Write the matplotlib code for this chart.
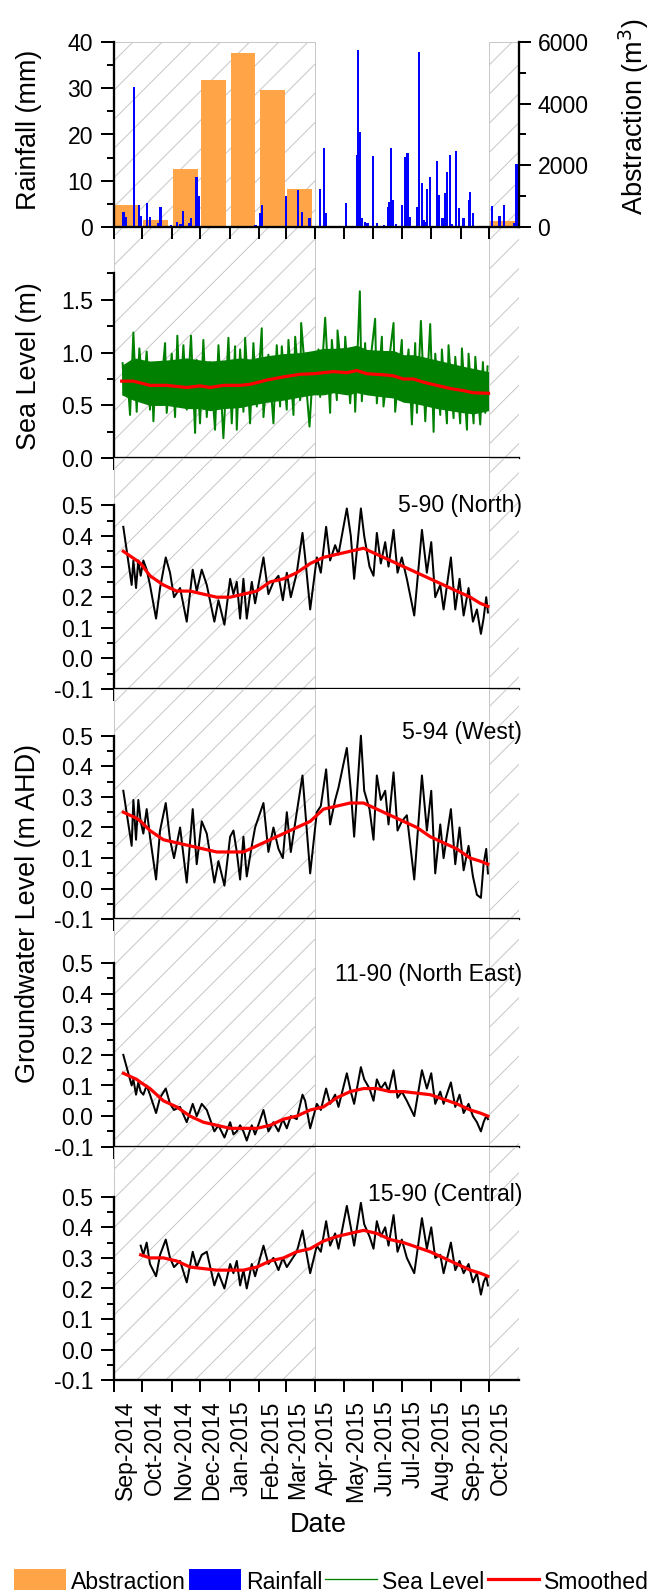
import numpy as np
import pandas as pd
import matplotlib
matplotlib.use('Agg')
import matplotlib.pyplot as plt
import matplotlib.dates as mdates
import matplotlib.transforms as mtrans
from matplotlib.patches import Patch
from matplotlib.lines import Line2D
from matplotlib.ticker import FixedLocator, FormatStrFormatter

DPI = 175
W, H = 649, 1590


def pt(px):
    # pixel size -> points at this dpi
    return px * 72.0 / DPI


plt.rcParams['font.family'] = ['Liberation Sans', 'DejaVu Sans']
plt.rcParams['axes.unicode_minus'] = False
plt.rcParams['hatch.linewidth'] = pt(1.0)

# ---------------- data ----------------
START = '2014-09-01'   # day 0 of all day offsets below

# monthly abstraction (m3), bars at mid month
abs_dates = ['2014-09-15', '2014-10-15', '2014-11-15', '2014-12-15',
             '2015-01-15', '2015-02-15', '2015-03-15', '2015-10-15']
abstraction = [700, 220, 1880, 4770, 5640, 4450, 1220, 200]

# daily rainfall (mm)
rain_days = [10, 12, 21, 26, 28, 35, 38, 47, 49, 60, 66, 70, 73, 79, 81, 87, 89,
             149, 154, 156, 181, 194, 198, 206, 217, 221, 223, 244, 256, 257, 259,
             261, 264, 267, 273, 277, 284, 289, 290, 292, 294, 297, 303, 307, 309,
             312, 319, 321, 324, 326, 328, 330, 333, 340, 342, 346, 349, 351, 354,
             356, 360, 363, 368, 374, 375, 378, 398, 406, 411, 421, 424]
rainfall = [3.1, 2.0, 30.2, 4.8, 2.3, 5.1, 2.0, 0.7, 4.2, 0.4, 1.1, 0.6, 3.5, 0.7, 1.8,
            10.7, 6.7, 0.4, 2.9, 4.7, 6.7, 8.0, 3.1, 1.9, 8.2, 17.0, 2.9, 5.1, 15.5,
            38.3, 20.6, 1.8, 1.0, 0.8, 15.3, 0.7, 0.4, 4.2, 5.4, 17.0, 5.8, 0.6, 4.7,
            15.2, 15.9, 2.0, 4.2, 37.8, 9.4, 1.4, 1.1, 8.2, 10.7, 14.3, 6.9, 1.8, 7.4,
            11.9, 15.5, 0.6, 16.5, 4.1, 1.8, 5.8, 7.6, 2.9, 4.5, 2.3, 4.7, 0.7, 13.5]

# sea level (m), peaks and troughs
sea_days = [9.1, 10.5, 13.3, 16.9, 20.4, 23.9, 26.7, 30.9, 34.4, 37.9,
            39.7, 41.5, 44.3, 48.5, 53.8, 55.5, 60.8, 64.3, 66.7, 69.6,
            73.1, 76.6, 81.1, 85.4, 87.1, 90.6, 94.1, 97.7, 101.2, 106.4,
            110.0, 115.2, 120.5, 124.0, 127.5, 129.3, 132.8, 136.3, 138.1, 143.3,
            146.8, 150.4, 155.6, 157.4, 162.6, 167.9, 171.4, 174.9, 176.7, 181.9,
            183.7, 189.0, 190.8, 196.0, 197.1, 205.9, 210.1, 211.8, 215.3, 217.1,
            222.4, 227.6, 229.4, 234.7, 235.4, 241.7, 243.5, 248.7, 252.2, 254.0,
            258.9, 261.0, 264.5, 266.3, 275.0, 276.8, 282.1, 283.8, 294.4, 296.1,
            303.1, 304.9, 310.2, 313.7, 317.2, 319.0, 323.2, 327.8, 333.0, 336.6,
            338.3, 343.6, 345.3, 350.6, 352.3, 357.6, 359.4, 364.6, 366.4, 371.7,
            373.4, 378.7, 380.5, 385.7, 388.5, 391.0, 393.4]
sea_level = [0.90, 0.65, 0.88, 0.41, 1.19, 0.44, 1.04, 0.58, 1.01, 0.46,
             0.84, 0.35, 0.90, 0.55, 1.09, 0.43, 0.99, 0.39, 1.16, 0.52,
             1.07, 0.46, 1.16, 0.24, 0.93, 0.33, 1.12, 0.39, 0.91, 0.27,
             1.07, 0.19, 1.14, 0.33, 1.06, 0.27, 1.03, 0.44, 1.14, 0.33,
             1.09, 0.49, 1.23, 0.39, 0.98, 0.33, 1.07, 0.49, 1.06, 0.46,
             1.12, 0.41, 1.15, 0.55, 1.28, 0.30, 0.93, 0.65, 1.03, 0.58,
             1.33, 0.43, 1.12, 0.55, 1.21, 0.62, 1.15, 0.52, 1.01, 0.44,
             1.58, 0.54, 1.09, 0.62, 1.32, 0.52, 1.15, 0.49, 1.28, 0.44,
             1.12, 0.55, 1.03, 0.32, 1.09, 0.43, 1.30, 0.35, 1.27, 0.25,
             0.99, 0.41, 1.03, 0.33, 1.07, 0.38, 0.96, 0.33, 1.04, 0.27,
             0.99, 0.33, 0.96, 0.32, 0.91, 0.43, 0.87]
sea_smooth_days = [8.1, 20.4, 37.9, 55.5, 76.6, 90.6, 101.2, 115.2, 132.8, 143.3,
                   160.9, 178.4, 196.0, 210.0, 220.6, 231.1, 245.2, 255.7, 266.3, 283.8,
                   294.3, 304.9, 315.4, 325.9, 340.0, 354.1, 368.1, 378.6, 394.4]
sea_smooth = [0.73, 0.73, 0.69, 0.69, 0.67, 0.685, 0.67, 0.69, 0.69, 0.70,
              0.74, 0.77, 0.795, 0.80, 0.81, 0.82, 0.81, 0.83, 0.80, 0.79,
              0.78, 0.75, 0.75, 0.72, 0.69, 0.66, 0.64, 0.62, 0.615]
# densely filled core of the hourly record (same days as the smoothed curve)
sea_core_hi = [0.88, 0.95, 0.92, 0.93, 0.95, 0.93, 0.92, 0.93, 0.95, 0.94,
               0.97, 0.99, 1.00, 1.02, 1.04, 1.04, 1.05, 1.07, 1.03, 1.02,
               1.02, 0.98, 0.98, 0.96, 0.93, 0.90, 0.87, 0.85, 0.82]
sea_core_lo = [0.60, 0.55, 0.50, 0.50, 0.47, 0.47, 0.45, 0.47, 0.48, 0.50,
               0.53, 0.55, 0.58, 0.60, 0.60, 0.62, 0.60, 0.62, 0.60, 0.58,
               0.57, 0.53, 0.52, 0.50, 0.47, 0.45, 0.43, 0.42, 0.45]

# groundwater levels (m AHD)
gw_days = [9.8, 18.6, 20.4, 23.2, 25.6, 28.1, 30.9, 34.4, 37.9, 44.3,
           48.5, 54.5, 59.0, 63.2, 69.6, 76.6, 82.9, 87.1, 92.4, 97.7,
           105.7, 110.0, 116.3, 122.3, 125.8, 129.3, 132.8, 136.3, 139.8, 145.1,
           148.6, 157.4, 162.6, 167.9, 173.2, 177.8, 182.0, 186.2, 192.5, 198.5,
           201.3, 206.6, 213.6, 217.8, 223.4, 227.6, 232.9, 236.4, 245.2, 249.4,
           252.9, 260.0, 263.5, 269.1, 273.3, 276.8, 281.0, 285.6, 289.1, 294.4,
           298.6, 303.1, 308.4, 316.2, 324.3, 329.5, 334.1, 338.3, 343.6, 347.1,
           354.8, 359.4, 363.9, 368.2, 373.4, 378.0, 382.2, 386.4, 389.2, 392.0,
           393.8]
gw_north = [0.43, 0.24, 0.32, 0.23, 0.32, 0.27, 0.32, 0.29, 0.24, 0.13,
            0.23, 0.33, 0.28, 0.20, 0.23, 0.12, 0.29, 0.22, 0.29, 0.24,
            0.12, 0.19, 0.11, 0.26, 0.21, 0.25, 0.13, 0.26, 0.13, 0.25,
            0.18, 0.33, 0.21, 0.25, 0.27, 0.19, 0.28, 0.20, 0.28, 0.41,
            0.33, 0.16, 0.33, 0.28, 0.43, 0.32, 0.37, 0.34, 0.49, 0.40,
            0.26, 0.49, 0.40, 0.30, 0.27, 0.41, 0.31, 0.38, 0.30, 0.42,
            0.28, 0.33, 0.26, 0.14, 0.42, 0.28, 0.38, 0.20, 0.24, 0.16,
            0.33, 0.16, 0.26, 0.14, 0.23, 0.12, 0.16, 0.08, 0.13, 0.20,
            0.15]
gw_west = [0.32, 0.14, 0.29, 0.16, 0.29, 0.22, 0.18, 0.26, 0.17, 0.03,
           0.19, 0.28, 0.16, 0.10, 0.20, 0.02, 0.26, 0.08, 0.22, 0.18,
           0.02, 0.09, 0.01, 0.17, 0.19, 0.12, 0.03, 0.17, 0.04, 0.14,
           0.20, 0.28, 0.12, 0.20, 0.13, 0.10, 0.25, 0.12, 0.25, 0.37,
           0.26, 0.05, 0.25, 0.27, 0.39, 0.21, 0.29, 0.33, 0.46, 0.32,
           0.17, 0.50, 0.32, 0.26, 0.16, 0.37, 0.29, 0.32, 0.21, 0.38,
           0.19, 0.22, 0.24, 0.03, 0.37, 0.19, 0.32, 0.05, 0.21, 0.10,
           0.26, 0.08, 0.20, 0.06, 0.14, 0.04, -0.02, -0.03, 0.08, 0.13,
           0.05]
gw_northeast = [0.20, 0.10, 0.12, 0.07, 0.11, 0.08, 0.07, 0.10, 0.07, 0.01,
                0.06, 0.09, 0.04, 0.02, 0.03, -0.02, 0.04, 0.00, 0.04, 0.02,
                -0.05, -0.03, -0.07, -0.02, -0.06, -0.05, -0.03, -0.05, -0.08, -0.03,
                -0.06, 0.02, -0.05, -0.02, -0.05, -0.01, -0.04, 0.00, -0.01, 0.07,
                0.05, -0.04, 0.04, 0.02, 0.09, 0.04, 0.07, 0.03, 0.14, 0.08,
                0.04, 0.16, 0.12, 0.09, 0.05, 0.12, 0.09, 0.11, 0.08, 0.15,
                0.06, 0.08, 0.05, 0.00, 0.15, 0.09, 0.14, 0.04, 0.08, 0.04,
                0.11, 0.03, 0.07, 0.01, 0.04, 0.00, -0.02, -0.05, -0.02, 0.00,
                -0.01]
gw_central = [np.nan, np.nan, np.nan, np.nan, np.nan, 0.34, 0.31, 0.35, 0.28, 0.24,
              0.31, 0.36, 0.30, 0.27, 0.29, 0.22, 0.32, 0.27, 0.31, 0.32,
              0.21, 0.25, 0.20, 0.28, 0.25, 0.29, 0.21, 0.26, 0.20, 0.28,
              0.24, 0.34, 0.28, 0.30, 0.26, 0.30, 0.27, 0.29, 0.32, 0.39,
              0.34, 0.25, 0.34, 0.32, 0.42, 0.34, 0.38, 0.33, 0.47, 0.40,
              0.34, 0.48, 0.41, 0.37, 0.33, 0.42, 0.37, 0.40, 0.34, 0.44,
              0.32, 0.36, 0.30, 0.25, 0.43, 0.33, 0.40, 0.30, 0.31, 0.25,
              0.35, 0.26, 0.29, 0.25, 0.28, 0.22, 0.25, 0.18, 0.22, 0.24,
              0.21]

smooth_days = [9.8, 23.9, 28.1, 37.9, 52.0, 66.0, 80.1, 94.1, 108.2, 122.3,
               136.3, 150.4, 164.4, 178.5, 192.5, 206.6, 220.6, 234.7, 248.7, 262.8,
               276.8, 290.9, 304.9, 319.0, 333.0, 347.1, 361.1, 375.2, 385.7, 393.8]
smooth_north = [0.35, 0.32, 0.31, 0.27, 0.24, 0.22, 0.22, 0.21, 0.20, 0.20,
                0.21, 0.22, 0.25, 0.26, 0.28, 0.31, 0.33, 0.34, 0.35, 0.36,
                0.34, 0.32, 0.30, 0.28, 0.26, 0.24, 0.22, 0.20, 0.18, 0.17]
smooth_west = [0.25, 0.23, 0.22, 0.19, 0.16, 0.15, 0.14, 0.13, 0.12, 0.12,
               0.12, 0.14, 0.16, 0.18, 0.20, 0.22, 0.26, 0.27, 0.28, 0.28,
               0.26, 0.24, 0.22, 0.20, 0.17, 0.15, 0.13, 0.10, 0.09, 0.08]
smooth_northeast = [0.14, 0.12, 0.11, 0.09, 0.05, 0.03, 0.00, -0.02, -0.03, -0.04,
                    -0.04, -0.04, -0.03, -0.01, 0.00, 0.02, 0.03, 0.06, 0.08, 0.09,
                    0.09, 0.08, 0.08, 0.075, 0.07, 0.055, 0.04, 0.02, 0.01, 0.00]
smooth_central = [np.nan, np.nan, 0.31, 0.30, 0.30, 0.29, 0.27, 0.265, 0.26, 0.26,
                  0.26, 0.27, 0.29, 0.30, 0.32, 0.33, 0.355, 0.37, 0.38, 0.39,
                  0.38, 0.36, 0.35, 0.335, 0.32, 0.30, 0.28, 0.26, 0.25, 0.24]

wells = ['5-90 (North)', '5-94 (West)', '11-90 (North East)', '15-90 (Central)']
well_label_y = [0.48, 0.49, 0.44, 0.485]

# ---------------- styling ----------------
ORANGE = '#FFA548'
BLUE = '#0000FF'
GREEN = '#008000'
RED = '#FF0000'
HATCH_GREY = '#c8c8c8'

x0 = mdates.datestr2num(START)
XMIN = x0
XMAX = mdates.datestr2num('2015-11-01')
WET_END = mdates.datestr2num('2015-04-01')
WET2_START = mdates.datestr2num('2015-10-01')
month_ticks = mdates.date2num(pd.date_range('2014-09-01', '2015-10-01', freq='MS'))


def dn(days):
    return x0 + np.asarray(days, dtype=float)


fig = plt.figure(figsize=((W + 0.01) / DPI, (H + 0.01) / DPI), dpi=DPI)
LEFT, RIGHT = 114, 518.5
panels = [(42.3, 226.7), (226.7, 458.3), (458.3, 689.0),
          (689.0, 919.3), (919.3, 1146.7), (1146.7, 1380.3)]


def add_ax(top, bot):
    return fig.add_axes([LEFT / W, 1 - bot / H, (RIGHT - LEFT) / W, (bot - top) / H])


def shade(ax):
    for a, b in [(XMIN, WET_END), (WET2_START, XMAX)]:
        ax.axvspan(a, b, facecolor='none', edgecolor=HATCH_GREY, hatch='//',
                   lw=pt(1), zorder=0)


def style(ax):
    ax.spines['top'].set_visible(False)
    ax.spines['right'].set_visible(False)
    ax.spines['left'].set_linewidth(pt(2.3))
    ax.spines['bottom'].set_linewidth(pt(2.3))
    ax.set_xlim(XMIN, XMAX)
    ax.xaxis.set_major_locator(FixedLocator(month_ticks))
    ax.tick_params(axis='x', which='major', direction='out', length=pt(12),
                   width=pt(2), labelbottom=False)
    ax.tick_params(axis='y', which='major', direction='out', length=pt(13),
                   width=pt(2), labelsize=pt(23), pad=pt(8))
    ax.tick_params(axis='y', which='minor', direction='out', length=pt(7), width=pt(2))


# panel 1: abstraction + rainfall
ax1 = add_ax(*panels[0])
ax1r = ax1.twinx()
ax1.set_zorder(3)
ax1r.set_zorder(2)
ax1.patch.set_visible(False)
style(ax1)
shade(ax1r)
ax1r.bar(mdates.datestr2num(abs_dates), abstraction, width=26, color=ORANGE, zorder=2)
ax1.bar(dn(rain_days), rainfall, width=2.4, color=BLUE, zorder=2)
ax1.set_ylim(0, 40)
ax1.yaxis.set_major_locator(FixedLocator([0, 10, 20, 30, 40]))
ax1.yaxis.set_minor_locator(FixedLocator([5, 15, 25, 35]))
ax1r.set_ylim(0, 6000)
ax1r.set_xlim(XMIN, XMAX)
for s in ['top', 'left', 'bottom']:
    ax1r.spines[s].set_visible(False)
ax1r.spines['right'].set_linewidth(pt(2.3))
ax1r.yaxis.set_major_locator(FixedLocator([0, 2000, 4000, 6000]))
ax1r.yaxis.set_minor_locator(FixedLocator([1000, 3000, 5000]))
ax1r.tick_params(axis='y', which='major', direction='out', length=pt(12),
                 width=pt(2), labelsize=pt(23), pad=pt(7))
ax1r.tick_params(axis='y', which='minor', direction='out', length=pt(7), width=pt(2))

# panel 2: sea level
ax2 = add_ax(*panels[1])
style(ax2)
shade(ax2)
ax2.fill_between(dn(sea_smooth_days), sea_core_lo, sea_core_hi, color=GREEN,
                 lw=0, zorder=2)
ax2.plot(dn(sea_days), sea_level, color=GREEN, lw=pt(2.0), zorder=2)
ax2.plot(dn(sea_smooth_days), sea_smooth, color=RED, lw=pt(3.2), zorder=3)
h2 = panels[1][1] - panels[1][0]
ax2.set_ylim(0, h2 / 105.7)
ax2.spines['left'].set_bounds(0, 1.75)
ax2.yaxis.set_major_locator(FixedLocator([0, 0.5, 1.0, 1.5]))
ax2.yaxis.set_minor_locator(FixedLocator([0.25, 0.75, 1.25, 1.75]))
ax2.yaxis.set_major_formatter(FormatStrFormatter('%.1f'))

# panels 3-6: groundwater
gw_series = [gw_north, gw_west, gw_northeast, gw_central]
sm_series = [smooth_north, smooth_west, smooth_northeast, smooth_central]
gw_axes = []
for i in range(4):
    top, bot = panels[2 + i]
    ax = add_ax(top, bot)
    style(ax)
    shade(ax)
    ax.plot(dn(gw_days), gw_series[i], color='black', lw=pt(2.0), zorder=2)
    ax.plot(dn(smooth_days), sm_series[i], color=RED, lw=pt(3.2), zorder=3)
    ax.set_ylim(-0.1, -0.1 + (bot - top) / 306.0)
    ax.spines['left'].set_bounds(-0.1, 0.5)
    ax.yaxis.set_major_locator(FixedLocator(np.round(np.arange(-0.1, 0.51, 0.1), 2)))
    ax.yaxis.set_minor_locator(FixedLocator(np.round(np.arange(-0.05, 0.5, 0.1), 3)))
    ax.yaxis.set_major_formatter(FormatStrFormatter('%.1f'))
    tr = mtrans.blended_transform_factory(ax.transAxes, ax.transData)
    ax.text(1.009, well_label_y[i], wells[i], transform=tr, ha='right',
            va='baseline', fontsize=pt(23))
    gw_axes.append(ax)

ax6 = gw_axes[-1]
ax6.xaxis.set_major_formatter(mdates.DateFormatter('%b-%Y'))
ax6.tick_params(axis='x', labelbottom=True, labelsize=pt(23), pad=pt(8))
plt.setp(ax6.get_xticklabels(), rotation=90, ha='left')

# axis titles
fs_lab = pt(27)
fig.text(29 / W, 1 - 130 / H, 'Rainfall (mm)', rotation=90, ha='center', va='center', fontsize=fs_lab)
fig.text(634 / W, 1 - 117 / H, 'Abstraction (m$^{3}$)', rotation=90, ha='center', va='center', fontsize=fs_lab)
fig.text(29 / W, 1 - 366 / H, 'Sea Level (m)', rotation=90, ha='center', va='center', fontsize=fs_lab)
fig.text(28 / W, 1 - 913 / H, 'Groundwater Level (m AHD)', rotation=90, ha='center', va='center', fontsize=fs_lab)
fig.text(318 / W, 1 - 1525 / H, 'Date', ha='center', va='center', fontsize=fs_lab)

handles = [Patch(facecolor=ORANGE, edgecolor='none'),
           Patch(facecolor=BLUE, edgecolor='none'),
           Line2D([], [], color=GREEN, lw=pt(1.3)),
           Line2D([], [], color=RED, lw=pt(3.2))]
fig.legend(handles, ['Abstraction', 'Rainfall', 'Sea Level', 'Smoothed'],
           loc='upper left', bbox_to_anchor=(14 / W, 1 - 1569 / H), ncol=4,
           frameon=False, fontsize=pt(23), handlelength=2.25, handleheight=1.3,
           handletextpad=0.22, columnspacing=0.14, borderpad=0, borderaxespad=0)

fig.savefig('out.png', dpi=DPI)
